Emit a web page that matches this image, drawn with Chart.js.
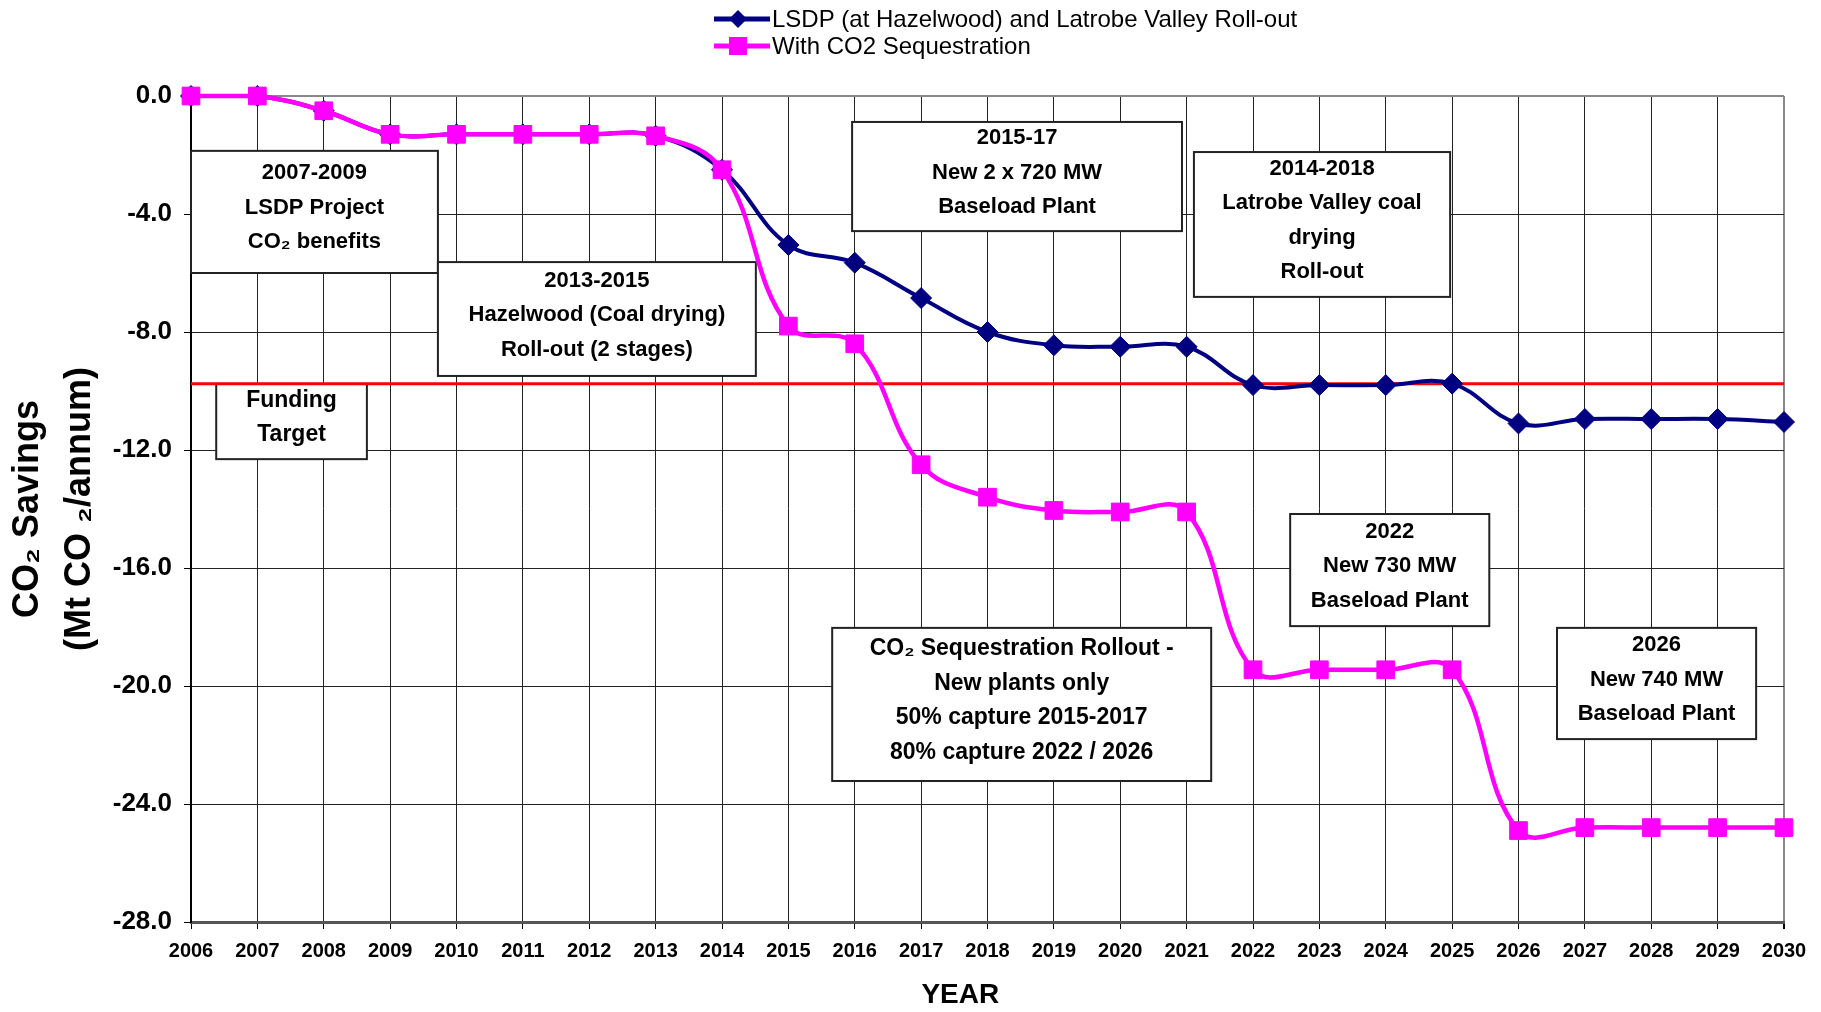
<!DOCTYPE html>
<html>
<head>
<meta charset="utf-8">
<script src="https://cdn.jsdelivr.net/npm/chart.js@4.4.1/dist/chart.umd.min.js"></script>
<style>
  html, body { margin: 0; padding: 0; background: #fff; }
  canvas { display: block; }
</style>
</head>
<body>
<canvas id="co2Chart" width="1821" height="1012"></canvas>
<script>
var years = ['2006', '2007', '2008', '2009', '2010', '2011', '2012', '2013', '2014', '2015', '2016', '2017',
             '2018', '2019', '2020', '2021', '2022', '2023', '2024', '2025', '2026', '2027', '2028', '2029', '2030'];

var lsdpRollout = [0, 0, -0.5, -1.3, -1.3, -1.3, -1.3, -1.35, -2.5, -5.05, -5.65, -6.85,
                   -8.0, -8.45, -8.5, -8.5, -9.8, -9.8, -9.8, -9.75, -11.1, -10.95, -10.95, -10.95, -11.05];

var withSequestration = [0, 0, -0.5, -1.3, -1.3, -1.3, -1.3, -1.35, -2.5, -7.8, -8.4, -12.5,
                         -13.6, -14.05, -14.1, -14.1, -19.45, -19.45, -19.45, -19.45, -24.9, -24.8, -24.8, -24.8, -24.8];

var seriesNames = ['LSDP (at Hazelwood) and Latrobe Valley Roll-out', 'With CO2 Sequestration'];

var fundingTarget = -9.75;
var yMin = -28, yMax = 0, yStep = 4;

var FONT = "'Liberation Sans', Arial, sans-serif";

// text boxes, placed in data units (year, Mt CO2)
var notes = [
  { lines: ['2007-2009', 'LSDP Project', 'CO\u2082 benefits'], x: [2006.0, 2009.72], y: [-1.86, -6.0] },
  { lines: ['2013-2015', 'Hazelwood (Coal drying)', 'Roll-out (2 stages)'], x: [2009.72, 2014.51], y: [-5.63, -9.49] },
  { lines: ['Funding', 'Target'], x: [2006.38, 2008.65], y: [-9.76, -12.31], heavy: true },
  { lines: ['2015-17', 'New 2 x 720 MW', 'Baseload Plant'], x: [2015.96, 2020.93], y: [-0.88, -4.58] },
  { lines: ['2014-2018', 'Latrobe Valley coal', 'drying', 'Roll-out'], x: [2021.11, 2024.97], y: [-1.90, -6.81] },
  { lines: ['CO\u2082 Sequestration Rollout -', 'New plants only', '50% capture 2015-2017', '80% capture 2022 / 2026'],
    x: [2015.66, 2021.37], y: [-18.03, -23.22], heavy: true },
  { lines: ['2022', 'New 730 MW', 'Baseload Plant'], x: [2022.56, 2025.56], y: [-14.17, -17.97] },
  { lines: ['2026', 'New 740 MW', 'Baseload Plant'], x: [2026.58, 2029.58], y: [-18.03, -21.8] }
];

function drawMarker(ctx, style, cx, cy, r) {
  ctx.beginPath();
  if (style === 'rectRot') {
    ctx.moveTo(cx, cy - r);
    ctx.lineTo(cx + r, cy);
    ctx.lineTo(cx, cy + r);
    ctx.lineTo(cx - r, cy);
    ctx.closePath();
  } else {
    ctx.rect(cx - r, cy - r, r * 2, r * 2);
  }
  ctx.fill();
}

var notesPlugin = {
  id: 'notes',
  beforeDatasetsDraw: function(chart) {
    var ctx = chart.ctx, xs = chart.scales.x, ys = chart.scales.y, area = chart.chartArea;
    ctx.save();
    notes.forEach(function(n) {
      var left = xs.getPixelForValue(n.x[0] - 2006);
      var right = xs.getPixelForValue(n.x[1] - 2006);
      var top = ys.getPixelForValue(n.y[0]);
      var bottom = ys.getPixelForValue(n.y[1]);
      ctx.fillStyle = '#fff';
      ctx.fillRect(left, top, right - left, bottom - top);
      ctx.strokeStyle = '#222';
      ctx.lineWidth = 2;
      ctx.strokeRect(left, top, right - left, bottom - top);
      ctx.fillStyle = '#000';
      ctx.font = 'bold ' + (n.heavy ? 23 : 22) + 'px ' + FONT;
      ctx.textAlign = 'center';
      ctx.textBaseline = 'middle';
      var step = 34.5;
      var cy = (top + bottom) / 2 - 4 - step * (n.lines.length - 1) / 2;
      n.lines.forEach(function(t, i) {
        ctx.fillText(t, (left + right) / 2, cy + i * step);
      });
    });
    // funding target line
    var yt = ys.getPixelForValue(fundingTarget);
    ctx.strokeStyle = '#ff0000';
    ctx.lineWidth = 3;
    ctx.beginPath();
    ctx.moveTo(area.left, yt);
    ctx.lineTo(area.right, yt);
    ctx.stroke();
    ctx.restore();
  }
};

var legendPlugin = {
  id: 'stackedLegend',
  afterDraw: function(chart) {
    var ctx = chart.ctx;
    ctx.save();
    chart.data.datasets.forEach(function(ds, i) {
      var y = 19 + i * 27;
      var x0 = 714, x1 = 770;
      ctx.strokeStyle = ds.borderColor;
      ctx.lineWidth = 5;
      ctx.beginPath();
      ctx.moveTo(x0, y);
      ctx.lineTo(x1, y);
      ctx.stroke();
      ctx.fillStyle = ds.borderColor;
      drawMarker(ctx, ds.pointStyle, (x0 + x1) / 2 - 4, y, 9);
      ctx.fillStyle = '#000';
      ctx.font = '24px ' + FONT;
      ctx.textAlign = 'left';
      ctx.textBaseline = 'middle';
      ctx.fillText(ds.label, x1 + 2, y + 1);
    });
    ctx.restore();
  }
};

var ctx = document.getElementById('co2Chart').getContext('2d');

new Chart(ctx, {
  type: 'line',
  data: {
    labels: years,
    datasets: [{
      label: seriesNames[0],
      data: lsdpRollout,
      borderColor: '#000080',
      backgroundColor: '#000080',
      pointBackgroundColor: '#000080',
      pointBorderColor: '#000080',
      borderWidth: 4,
      pointStyle: 'rectRot',
      pointRadius: 10.5,
      pointBorderWidth: 1,
      tension: 0.4,
      clip: false,
      order: 1
    }, {
      label: seriesNames[1],
      data: withSequestration,
      borderColor: '#ff00ff',
      backgroundColor: '#ff00ff',
      pointBackgroundColor: '#ff00ff',
      pointBorderColor: '#ff00ff',
      borderWidth: 4.5,
      pointStyle: 'rect',
      pointRadius: 12.5,
      pointBorderWidth: 1,
      tension: 0.4,
      clip: false,
      order: 0
    }]
  },
  options: {
    responsive: false,
    animation: false,
    devicePixelRatio: 1,
    layout: { padding: { top: 96, right: 37, left: 0, bottom: 0 } },
    plugins: {
      legend: { display: false },
      tooltip: { enabled: false }
    },
    scales: {
      x: {
        type: 'category',
        offset: false,
        grid: {
          color: function(c) { return c.index === years.length - 1 ? '#888' : '#222'; },
          lineWidth: function(c) { return c.index === years.length - 1 ? 2 : 1; },
          tickLength: 7,
          tickColor: '#000'
        },
        border: { color: '#555', width: 3 },
        ticks: {
          color: '#000',
          autoSkip: false,
          maxRotation: 0,
          padding: 10,
          font: { family: FONT, size: 20, weight: 'bold' }
        },
        title: {
          display: true,
          text: 'YEAR       ',
          color: '#000',
          padding: { top: 0, bottom: 0 },
          font: { family: FONT, size: 28, weight: 'bold' }
        },
        afterFit: function(s) { s.height = 90; }
      },
      y: {
        min: yMin,
        max: yMax,
        grid: {
          color: function(c) { return c.tick && c.tick.value === 0 ? '#888' : '#222'; },
          lineWidth: function(c) { return c.tick && c.tick.value === 0 ? 2 : 1; },
          tickLength: 7,
          tickColor: '#000'
        },
        border: { color: '#000', width: 2 },
        ticks: {
          stepSize: yStep,
          color: '#000',
          padding: 12,
          font: { family: FONT, size: 26, weight: 'bold' },
          callback: function(v) { return v.toFixed(1); }
        },
        title: {
          display: true,
          text: ['CO\u2082 Savings', '(Mt CO \u2082/annum)'],
          color: '#000',
          padding: { top: 2, bottom: 0 },
          font: { family: FONT, size: 36, weight: 'bold', lineHeight: 1.45 }
        },
        afterFit: function(s) { s.width = 191; }
      }
    }
  },
  plugins: [notesPlugin, legendPlugin]
});
</script>
</body>
</html>
